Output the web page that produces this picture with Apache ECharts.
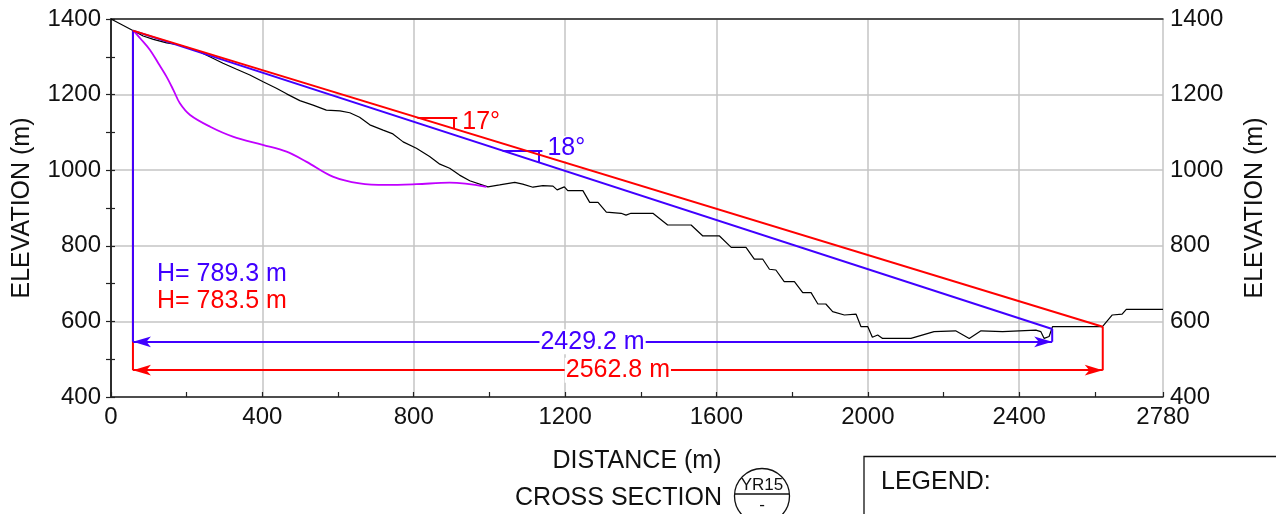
<!DOCTYPE html>
<html>
<head>
<meta charset="utf-8">
<script src="https://cdn.jsdelivr.net/npm/echarts@6/dist/echarts.min.js"></script>
<style>
  html, body { margin: 0; padding: 0; background: #fff; }
  #chart { width: 1276px; height: 514px; }
</style>
</head>
<body>
<div id="chart"></div>
<script>
// Ground profile along the section line (distance in m, elevation in m)
const terrainDist = [0, 59, 85, 112, 147, 173, 200, 235, 261, 296,
  332, 367, 402, 437, 464, 499, 534, 569, 605, 631,
  657, 684, 719, 745, 772, 807, 842, 869, 895, 921,
  948, 996, 1027, 1067, 1088, 1115, 1141, 1168, 1179, 1198,
  1207, 1247, 1265, 1287, 1309, 1348, 1361, 1374, 1432, 1471,
  1533, 1564, 1608, 1639, 1678, 1700, 1722, 1740, 1757, 1779,
  1806, 1828, 1850, 1868, 1889, 1907, 1938, 1969, 1982, 2000,
  2012, 2026, 2039, 2114, 2175, 2232, 2268, 2299, 2356, 2444,
  2457, 2466, 2479, 2488, 2620, 2646, 2672, 2683, 2780];
const terrainElev = [1400, 1369, 1355, 1346, 1337, 1333, 1325, 1313, 1300, 1283,
  1267, 1252, 1234, 1217, 1202, 1184, 1172, 1159, 1157, 1152,
  1140, 1120, 1106, 1096, 1075, 1058, 1036, 1016, 1005, 987,
  972, 956, 961, 968, 963, 955, 959, 958, 948, 956,
  946, 946, 915, 915, 889, 886, 881, 886, 886, 855,
  855, 826, 826, 796, 796, 765, 765, 738, 736, 705,
  705, 676, 676, 646, 646, 626, 617, 619, 586, 586,
  558, 564, 555, 555, 573, 575, 555, 575, 573, 577,
  573, 555, 560, 586, 586, 617, 619, 632, 632];

// Source-area scar surface
const scarDist = [58, 62, 77, 103, 125, 147, 165, 182, 209, 262, 322, 401, 464, 517, 586, 657, 728, 807, 895, 992];
const scarElev = [1369, 1366, 1349, 1318, 1283, 1247, 1212, 1177, 1146, 1115, 1089, 1067, 1049, 1022, 983, 965, 961, 963, 967, 956];

// Runout geometry: common start point, horizontal runs and height drops
const startDist = 58;
const startElev = 1369.3;
const redRun = 2562.8, redDrop = 783.5;
const blueRun = 2429.2, blueDrop = 789.3;
// Elevations of the dimension lines
const blueDimElev = 546;
const redDimElev = 471;
// Where the angle markers sit along each line (distance, m)
const redAngleAt = 810;
const blueAngleAt = 1035;
const angleArm = 105;

// Axis ticks
const xMax = 2780, xLabelStep = 400, xTickStep = 200;
const yMin = 400, yMax = 1400, yStep = 200;

const FONT = '"Liberation Sans", Arial, Helvetica, sans-serif';
const RED = '#ff0000';
const BLUE = '#4000ff';
const PURPLE = '#c000ff';
const AXIS = '#222';
const GRID = '#c4c4c4';

const pairs = (xs, ys) => xs.map((x, i) => [x, ys[i]]);

const redEnd = [startDist + redRun, startElev - redDrop];
const blueEnd = [startDist + blueRun, startElev - blueDrop];
const redSlope = redDrop / redRun;
const blueSlope = blueDrop / blueRun;
const redDeg = Math.round(Math.atan(redSlope) * 180 / Math.PI);
const blueDeg = Math.round(Math.atan(blueSlope) * 180 / Math.PI);
const onRed = d => startElev - (d - startDist) * redSlope;
const onBlue = d => startElev - (d - startDist) * blueSlope;

function angleMarker(at, lineFn, color, text, offsetY) {
  const y0 = lineFn(at);
  const tickX = at + angleArm - 10;
  return [
    [{ coord: [at, y0], symbol: 'none' },
     { coord: [at + angleArm, y0], symbol: 'none',
       label: { show: true, position: 'end', distance: 4, formatter: text,
                color: color, fontSize: 25, fontFamily: FONT, offset: [0, offsetY] } }],
    [{ coord: [tickX, y0], symbol: 'none' },
     { coord: [tickX, lineFn(tickX)], symbol: 'none', label: { show: false } }]
  ];
}

function dimension(elev, run) {
  return [[{ coord: [startDist, elev] },
           { coord: [startDist + run, elev] }]];
}

const chart = echarts.init(document.getElementById('chart'));

chart.setOption({
  animation: false,
  backgroundColor: '#fff',
  grid: { left: 111, right: 113, top: 19, bottom: 117, containLabel: false },
  xAxis: [
    {
      type: 'value', position: 'bottom', min: 0, max: xMax, interval: xTickStep,
      axisLine: { show: true, lineStyle: { color: AXIS, width: 1.5 } },
      axisTick: { show: true, inside: true, length: 5, lineStyle: { color: AXIS, width: 1.2 } },
      axisLabel: {
        formatter: v => (v % xLabelStep === 0 || v === xMax) ? String(v) : '',
        fontSize: 24, color: '#111', fontFamily: FONT, margin: 8
      },
      splitLine: { show: false }
    },
    {
      type: 'value', position: 'top', min: 0, max: xMax, interval: xLabelStep,
      axisLine: { show: true, lineStyle: { color: AXIS, width: 1.5 } },
      axisTick: { show: false }, axisLabel: { show: false },
      splitLine: { show: true, lineStyle: { color: GRID, width: 1.5 } }
    }
  ],
  yAxis: [
    {
      type: 'value', position: 'left', min: yMin, max: yMax, interval: yStep,
      axisLine: { show: true, lineStyle: { color: AXIS, width: 1.5 } },
      axisTick: { show: true, length: 5, lineStyle: { color: AXIS, width: 1.2 } },
      minorTick: { show: true, splitNumber: 2, length: 5, lineStyle: { color: AXIS, width: 1.2 } },
      axisLabel: { formatter: v => String(v), fontSize: 24, color: '#111', fontFamily: FONT, margin: 10 },
      splitLine: { show: true, lineStyle: { color: GRID, width: 1.5 } }
    },
    {
      type: 'value', position: 'right', min: yMin, max: yMax, interval: yStep,
      axisLine: { show: true, lineStyle: { color: AXIS, width: 1.5 } },
      axisTick: { show: true, length: 4, lineStyle: { color: AXIS, width: 1.2 } },
      minorTick: { show: true, splitNumber: 2, length: 4, lineStyle: { color: AXIS, width: 1.2 } },
      axisLabel: { formatter: v => String(v), fontSize: 24, color: '#111', fontFamily: FONT, margin: 7 },
      splitLine: { show: false }
    }
  ],
  series: [
    {
      name: 'Ground profile', type: 'line', showSymbol: false, symbol: 'none',
      data: pairs(terrainDist, terrainElev),
      lineStyle: { color: '#000', width: 1.2 }, z: 3
    },
    {
      name: 'Scar surface', type: 'line', showSymbol: false, symbol: 'none', smooth: 0.35,
      data: pairs(scarDist, scarElev),
      lineStyle: { color: PURPLE, width: 1.8 }, z: 3
    },
    {
      name: 'Red verticals', type: 'line', showSymbol: false, symbol: 'none',
      data: [[startDist, startElev], [startDist, redDimElev], null, redEnd, [redEnd[0], redDimElev]],
      connectNulls: false,
      lineStyle: { color: RED, width: 2 }, z: 4
    },
    {
      name: 'Blue verticals', type: 'line', showSymbol: false, symbol: 'none',
      data: [[startDist, startElev], [startDist, blueDimElev], null, blueEnd, [blueEnd[0], blueDimElev]],
      connectNulls: false,
      lineStyle: { color: BLUE, width: 2 }, z: 5
    },
    {
      name: 'Blue line', type: 'line', showSymbol: false, symbol: 'none',
      data: [[startDist, startElev], blueEnd],
      lineStyle: { color: BLUE, width: 2 }, z: 5,
      markLine: {
        silent: true, symbol: ['arrow', 'arrow'], symbolSize: [8, 18], precision: 3,
        lineStyle: { color: BLUE, width: 2, type: 'solid' },
        label: {
          show: true, position: 'insideMiddle', formatter: blueRun.toFixed(1) + ' m',
          color: BLUE, fontSize: 25, fontFamily: FONT, backgroundColor: '#fff', padding: [0, 1]
        },
        data: dimension(blueDimElev, blueRun).concat(
          angleMarker(blueAngleAt, onBlue, BLUE, blueDeg + '°', -2))
      }
    },
    {
      name: 'Red line', type: 'line', showSymbol: false, symbol: 'none',
      data: [[startDist, startElev], redEnd],
      lineStyle: { color: RED, width: 2 }, z: 6,
      markLine: {
        silent: true, symbol: ['arrow', 'arrow'], symbolSize: [8, 18], precision: 3,
        lineStyle: { color: RED, width: 2, type: 'solid' },
        label: {
          show: true, position: 'insideMiddle', formatter: redRun.toFixed(1) + ' m',
          color: RED, fontSize: 25, fontFamily: FONT, backgroundColor: '#fff', padding: [0, 1]
        },
        data: dimension(redDimElev, redRun).concat(
          angleMarker(redAngleAt, onRed, RED, redDeg + '°', 5))
      }
    }
  ],
  graphic: [
    { type: 'text', x: 22, y: 208, rotation: Math.PI / 2,
      style: { text: 'ELEVATION (m)', font: '25px ' + FONT, fill: '#111', align: 'center', verticalAlign: 'middle' } },
    { type: 'text', x: 1255, y: 208, rotation: Math.PI / 2,
      style: { text: 'ELEVATION (m)', font: '25px ' + FONT, fill: '#111', align: 'center', verticalAlign: 'middle' } },
    { type: 'text', x: 637, y: 461,
      style: { text: 'DISTANCE (m)', font: '25px ' + FONT, fill: '#111', align: 'center', verticalAlign: 'middle' } },
    { type: 'text', x: 722, y: 498,
      style: { text: 'CROSS SECTION', font: '25px ' + FONT, fill: '#111', align: 'right', verticalAlign: 'middle' } },
    { type: 'circle', shape: { cx: 762, cy: 496, r: 27.5 },
      style: { fill: 'none', stroke: '#111', lineWidth: 1.3 } },
    { type: 'line', shape: { x1: 735, y1: 494, x2: 789, y2: 494 },
      style: { stroke: '#111', lineWidth: 1.5 } },
    { type: 'text', x: 762, y: 485,
      style: { text: 'YR15', font: '17px ' + FONT, fill: '#111', align: 'center', verticalAlign: 'middle' } },
    { type: 'text', x: 762, y: 505,
      style: { text: '-', font: '17px ' + FONT, fill: '#111', align: 'center', verticalAlign: 'middle' } },
    { type: 'polyline', shape: { points: [[864, 514], [864, 456.5], [1276, 456.5]] },
      style: { fill: 'none', stroke: '#111', lineWidth: 1.3 } },
    { type: 'text', x: 881, y: 482,
      style: { text: 'LEGEND:', font: '25px ' + FONT, fill: '#111', align: 'left', verticalAlign: 'middle' } },
    { type: 'text', x: 157, y: 274, z: 10,
      style: { text: 'H= ' + blueDrop.toFixed(1) + ' m', font: '25px ' + FONT, fill: BLUE, align: 'left', verticalAlign: 'middle' } },
    { type: 'text', x: 157, y: 301, z: 10,
      style: { text: 'H= ' + redDrop.toFixed(1) + ' m', font: '25px ' + FONT, fill: RED, align: 'left', verticalAlign: 'middle' } }
  ]
});
</script>
</body>
</html>
